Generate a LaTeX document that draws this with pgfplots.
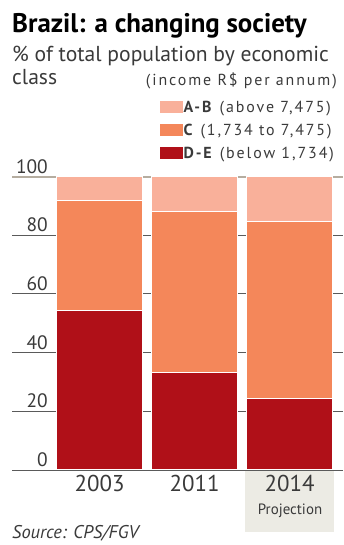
\documentclass[border=0pt]{standalone}
\usepackage{pgfplots}
\pgfplotsset{compat=1.18}
\usepackage{fontspec}
\setmainfont{PT Sans}
\newfontfamily\keyfont[LetterSpace=12]{PT Sans}

\definecolor{clsAB}{HTML}{F9B09A}
\definecolor{clsC}{HTML}{F4875A}
\definecolor{clsDE}{HTML}{B01018}
\definecolor{txtgray}{HTML}{3A3A3A}
\definecolor{gridgray}{HTML}{5A5A5A}
\definecolor{rule100}{HTML}{B5ADA0}
\definecolor{projbg}{HTML}{ECEBE4}

\pgfplotstableread{
x  DE    C     AB
0  54.5  37.3  8.2
1  33.2  55.0  11.8
2  24.4  60.2  15.4
}\classdata

\begin{document}
\begin{tikzpicture}[x=1bp,y=1bp]
\useasboundingbox (0,0) rectangle (343,545);
% shaded backdrop behind the projected year
\fill[projbg] (245,13) rectangle (334,74);

% headings
\node[anchor=base west, inner sep=0, font=\bfseries\fontsize{27}{27}\selectfont] at (12,512) {Brazil: a changing society};
\node[anchor=base west, inner sep=0, text=txtgray, font=\fontsize{21.7}{21.7}\selectfont] at (12,483) {\% of total population by economic};
\node[anchor=base west, inner sep=0, text=txtgray, font=\fontsize{21.7}{21.7}\selectfont] at (12,460) {class};
\node[anchor=base east, inner sep=0, text=txtgray, font=\keyfont\fontsize{16}{16}\selectfont] at (337,459) {(income R\$ per annum)};

\begin{axis}[
  at={(12bp,75bp)}, anchor=south west,
  scale only axis, width=331bp, height=293.5bp,
  xmin=-0.923, xmax=2.561, ymin=0, ymax=100,
  ybar stacked, bar width=0.905,
  axis x line*=bottom, axis y line*=left,
  axis line style={draw=none},
  tick style={draw=none},
  xtick=data, xticklabels={2003,2011,2014},
  ytick={0,20,...,100},
  ymajorgrids, grid style={gridgray, line width=0.8bp},
  /pgf/number format/assume math mode=true,
  yticklabel style={anchor=south east, xshift=36bp, yshift=3bp, inner sep=0pt,
    text=txtgray, font=\fontsize{19.5}{19.5}\selectfont},
  xticklabel style={anchor=north, yshift=-2bp, text=txtgray,
    font=\fontsize{23}{23}\selectfont},
  every axis plot/.append style={draw=white, line width=1bp},
  reverse legend,
  legend cell align=left,
  legend image code/.code={\fill[#1, draw=none] (0bp,-6bp) rectangle (23bp,6bp);},
  legend style={draw=none, fill=none, at={(axis description cs:0.985,1.268)},
    anchor=north east, row sep=8bp, text=txtgray,
    font=\keyfont\fontsize{16}{16}\selectfont,
    nodes={inner sep=1bp}},
]
\addplot[fill=clsDE] table[x=x, y=DE] {\classdata};
\addlegendentry{\textbf{D-E} (below 1,734)}
\addplot[fill=clsC] table[x=x, y=C] {\classdata};
\addlegendentry{\textbf{C} (1,734 to 7,475)}
\addplot[fill=clsAB] table[x=x, y=AB] {\classdata};
\addlegendentry{\textbf{A-B} (above 7,475)}
% baseline and top rule over the bars
\draw[gridgray, line width=0.8bp] (axis cs:-0.923,0) -- (axis cs:2.561,0);
\draw[rule100, line width=2.5bp] (axis cs:-0.923,100) -- (axis cs:2.561,100);
\end{axis}

\node[anchor=base, inner sep=0, text=txtgray, font=\fontsize{15}{15}\selectfont] at (290,30) {Projection};
\node[anchor=base west, inner sep=0, text=txtgray, font=\itshape\fontsize{18.5}{18.5}\selectfont] at (12,6) {Source: CPS/FGV};
\end{tikzpicture}
\end{document}
